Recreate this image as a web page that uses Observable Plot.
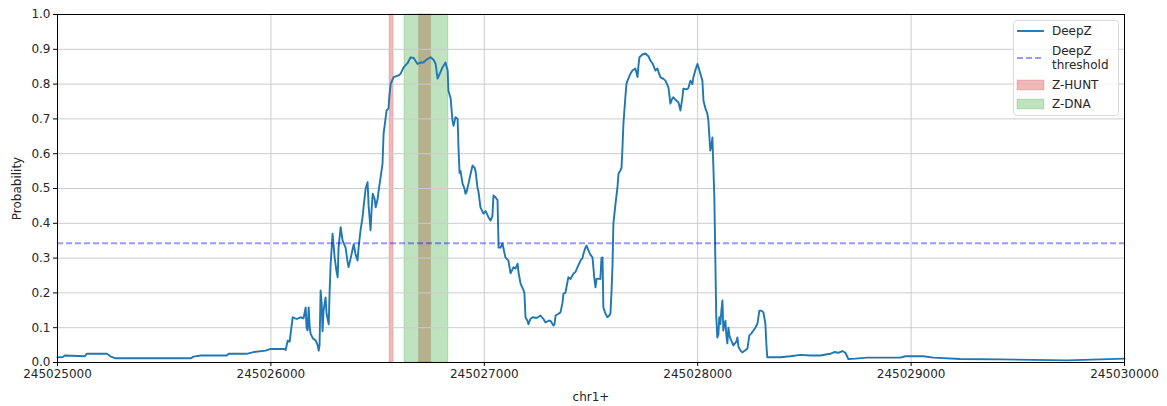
<!DOCTYPE html>
<html>
<head>
<meta charset="utf-8">
<script src="https://cdn.jsdelivr.net/npm/d3@7"></script>
<script src="https://cdn.jsdelivr.net/npm/@observablehq/plot@0.6"></script>
<style>
  html, body { margin: 0; padding: 0; background: #fff; }
  #wrap { position: relative; width: 1167px; height: 406px; font-family: "DejaVu Sans", sans-serif; }
  #legend { position: absolute; left: 0; top: 0; pointer-events: none; }
</style>
</head>
<body>
<div id="wrap"></div>
<script>
// ---- data ----
const START = 245025000;
const END = 245030000;
const xTicks = [245025000, 245026000, 245027000, 245028000, 245029000, 245030000];
const yTicks = [0, 0.1, 0.2, 0.3, 0.4, 0.5, 0.6, 0.7, 0.8, 0.9, 1.0];

// DeepZ probability: offsets (bp from START) and values
const offsets = [0,25,34,128,137,231,250,273,624,638,671,793,802,886,919,975,999,1060,1069,1079,1088,
1102,1121,1139,1153,1163,1167,1172,1177,1182,1186,1196,1210,1219,1224,1228,1233,1238,1242,1247,1256,1261,1271,1275,
1280,1285,1289,1299,1308,1313,1317,1327,1336,1350,1359,1364,1374,1388,1397,1406,1411,1420,1430,1434,1444,1453,1458,
1467,1472,1477,1486,1491,1500,1505,1514,1523,1528,1537,1542,1551,1556,1561,1575,1598,1608,1622,1640,1655,1669,1687,
1701,1715,1729,1748,1762,1772,1781,1795,1804,1818,1828,1832,1842,1851,1856,1865,1875,1879,1884,1889,1898,1907,1912,
1917,1926,1935,1945,1954,1959,1968,1973,1982,1996,2006,2020,2029,2038,2043,2053,2062,2067,2076,2085,2099,2113,2123,
2137,2146,2156,2160,2170,2184,2188,2193,2202,2207,2216,2226,2245,2263,2277,2287,2301,2310,2324,2329,2334,2348,2357,
2366,2371,2380,2394,2404,2418,2427,2437,2451,2460,2465,2474,2479,2488,2497,2507,2516,2521,2526,2535,2544,2549,2554,
2558,2568,2577,2586,2591,2596,2601,2605,2615,2624,2629,2638,2643,2647,2652,2661,2666,2671,2685,2694,2708,2718,2722,
2727,2741,2755,2769,2778,2788,2802,2811,2825,2839,2849,2863,2872,2882,2886,2896,2910,2919,2928,2933,2947,2956,2966,
2975,2980,2989,2999,3008,3017,3022,3027,3036,3045,3050,3059,3064,3069,3073,3078,3083,3087,3092,3097,3101,3106,3111,
3116,3120,3125,3130,3134,3139,3144,3148,3153,3167,3181,3186,3191,3200,3209,3223,3233,3242,3251,3261,3270,3280,3289,
3298,3308,3312,3317,3322,3326,3387,3434,3481,3528,3575,3621,3640,3659,3678,3692,3706,3738,3795,3949,3973,4057,4104,
4230,4418,4731,4886,5000];
const prob = [0.015,0.016,0.02,0.018,0.025,0.025,0.017,0.012,0.012,0.017,0.02,0.02,0.025,0.025,0.03,0.034,0.039,0.039,0.036,0.063,0.06,
0.13,0.125,0.13,0.127,0.158,0.1,0.092,0.158,0.1,0.083,0.07,0.063,0.05,0.034,0.05,0.207,0.17,0.09,0.15,0.187,0.14,0.11,0.2,
0.284,0.33,0.37,0.3,0.26,0.245,0.33,0.389,0.35,0.33,0.29,0.274,0.3,0.34,0.31,0.293,0.33,0.38,0.42,0.446,0.5,0.518,0.45,
0.38,0.44,0.485,0.47,0.446,0.47,0.494,0.532,0.57,0.657,0.7,0.724,0.73,0.77,0.80,0.82,0.825,0.83,0.848,0.86,0.877,0.875,0.858,
0.862,0.862,0.87,0.877,0.87,0.858,0.816,0.835,0.848,0.862,0.84,0.78,0.76,0.695,0.68,0.705,0.7,0.618,0.545,0.55,0.514,0.5,0.485,
0.49,0.514,0.54,0.566,0.56,0.55,0.503,0.49,0.446,0.428,0.435,0.417,0.408,0.42,0.48,0.474,0.466,0.33,0.33,0.342,0.302,0.293,0.256,
0.274,0.27,0.284,0.26,0.227,0.207,0.2,0.13,0.12,0.11,0.125,0.13,0.128,0.135,0.125,0.115,0.12,0.12,0.106,0.11,0.135,0.14,0.144,
0.17,0.198,0.2,0.245,0.24,0.256,0.26,0.274,0.293,0.3,0.313,0.33,0.336,0.322,0.31,0.302,0.24,0.216,0.24,0.241,0.24,0.3,0.302,
0.158,0.14,0.13,0.135,0.141,0.2,0.284,0.4,0.457,0.503,0.543,0.552,0.56,0.609,0.687,0.762,0.8,0.81,0.83,0.839,0.845,0.82,0.85,
0.877,0.885,0.888,0.88,0.868,0.86,0.839,0.845,0.82,0.815,0.81,0.79,0.744,0.76,0.762,0.755,0.747,0.724,0.76,0.787,0.785,0.788,0.81,
0.80,0.82,0.84,0.858,0.84,0.82,0.81,0.753,0.73,0.716,0.695,0.609,0.62,0.647,0.57,0.474,0.284,0.13,0.072,0.08,0.13,0.11,0.15,
0.178,0.092,0.11,0.12,0.08,0.055,0.1,0.08,0.069,0.049,0.06,0.072,0.045,0.035,0.029,0.035,0.040,0.078,0.083,0.092,0.1,0.112,0.149,
0.149,0.144,0.13,0.112,0.05,0.015,0.015,0.018,0.022,0.02,0.02,0.025,0.03,0.028,0.033,0.028,0.01,0.011,0.014,0.014,0.018,0.018,0.014,
0.01,0.009,0.006,0.009,0.011];

const threshold = 0.343;

// annotated regions
const zhuntStart = [245026556, 245026695];
const zhuntEnd   = [245026575, 245026750];
const zdnaStart  = [245026626];
const zdnaEnd    = [245026832];

const legendLabels = ["DeepZ", "DeepZ\nthreshold", "Z-HUNT", "Z-DNA"];

// ---- build tables ----
const series = offsets.map((o, i) => ({pos: START + o, p: prob[i]}));
const zhunt = zhuntStart.map((s, i) => ({s, e: zhuntEnd[i]}));
const zdna = zdnaStart.map((s, i) => ({s, e: zdnaEnd[i]}));

const blue = "#1f77b4";
const redC = "#d62728";
const greenC = "#2ca02c";
const gridColor = "#cccccc";

const chart = Plot.plot({
  width: 1167,
  height: 406,
  marginLeft: 57,
  marginRight: 43,
  marginTop: 14,
  marginBottom: 44,
  style: {fontFamily: "DejaVu Sans, sans-serif", fontSize: "12px", color: "#262626", background: "#fff"},
  x: {domain: [START, END]},
  y: {domain: [0, 1]},
  marks: [
    Plot.rect(zhunt, {x1: "s", x2: "e", fill: redC, fillOpacity: 0.33, stroke: redC, strokeOpacity: 0.2, strokeWidth: 1}),
    Plot.rect(zdna, {x1: "s", x2: "e", fill: greenC, fillOpacity: 0.3, stroke: greenC, strokeOpacity: 0.2, strokeWidth: 1}),
    Plot.gridX(xTicks, {stroke: gridColor, strokeOpacity: 1, strokeWidth: 1}),
    Plot.gridY(yTicks, {stroke: gridColor, strokeOpacity: 1, strokeWidth: 1}),
    Plot.line(series, {x: "pos", y: "p", stroke: blue, strokeWidth: 1.9, strokeLinejoin: "round"}),
    Plot.ruleY([threshold], {stroke: "blue", strokeOpacity: 0.4, strokeWidth: 2, strokeDasharray: "6,3"}),
    Plot.frame({stroke: "#000", strokeWidth: 1}),
    Plot.axisX(xTicks, {tickSize: 4, tickPadding: 3, tickFormat: d => String(d), label: "chr1+", labelAnchor: "center", labelArrow: "none", labelOffset: 38, stroke: "#000"}),
    Plot.axisY(yTicks, {tickSize: 4, tickPadding: 3, tickFormat: d3.format(".1f"), label: "Probability", labelAnchor: "center", labelArrow: "none", labelOffset: 45, stroke: "#000"})
  ]
});

const wrap = document.getElementById("wrap");
wrap.appendChild(chart);

// ---- legend overlay (inside the plot, upper right) ----
const lg = d3.select(wrap).append("svg")
  .attr("id", "legend")
  .attr("width", 1167).attr("height", 406)
  .style("font-family", "DejaVu Sans, sans-serif")
  .style("font-size", "12px");

lg.append("rect").attr("x", 1013.5).attr("y", 20.5).attr("width", 105).attr("height", 95)
  .attr("rx", 3).attr("fill", "rgba(255,255,255,0.8)").attr("stroke", "#d9d9d9");

// DeepZ
lg.append("line").attr("x1", 1017).attr("x2", 1044).attr("y1", 31).attr("y2", 31)
  .attr("stroke", blue).attr("stroke-width", 1.9);
lg.append("text").attr("x", 1052).attr("y", 31).attr("dy", "0.35em").attr("fill", "#262626").text(legendLabels[0]);
// threshold
lg.append("line").attr("x1", 1017).attr("x2", 1044).attr("y1", 58).attr("y2", 58)
  .attr("stroke", "blue").attr("stroke-opacity", 0.4).attr("stroke-width", 2).attr("stroke-dasharray", "6,3");
const tl = legendLabels[1].split("\n");
lg.append("text").attr("x", 1052).attr("y", 51).attr("dy", "0.35em").attr("fill", "#262626").text(tl[0]);
lg.append("text").attr("x", 1052).attr("y", 65).attr("dy", "0.35em").attr("fill", "#262626").text(tl[1]);
// Z-HUNT
lg.append("rect").attr("x", 1017).attr("y", 80).attr("width", 27).attr("height", 10)
  .attr("fill", redC).attr("fill-opacity", 0.33).attr("stroke", redC).attr("stroke-opacity", 0.2);
lg.append("text").attr("x", 1052).attr("y", 85).attr("dy", "0.35em").attr("fill", "#262626").text(legendLabels[2]);
// Z-DNA
lg.append("rect").attr("x", 1017).attr("y", 99).attr("width", 27).attr("height", 10)
  .attr("fill", greenC).attr("fill-opacity", 0.3).attr("stroke", greenC).attr("stroke-opacity", 0.2);
lg.append("text").attr("x", 1052).attr("y", 104).attr("dy", "0.35em").attr("fill", "#262626").text(legendLabels[3]);
</script>
</body>
</html>
